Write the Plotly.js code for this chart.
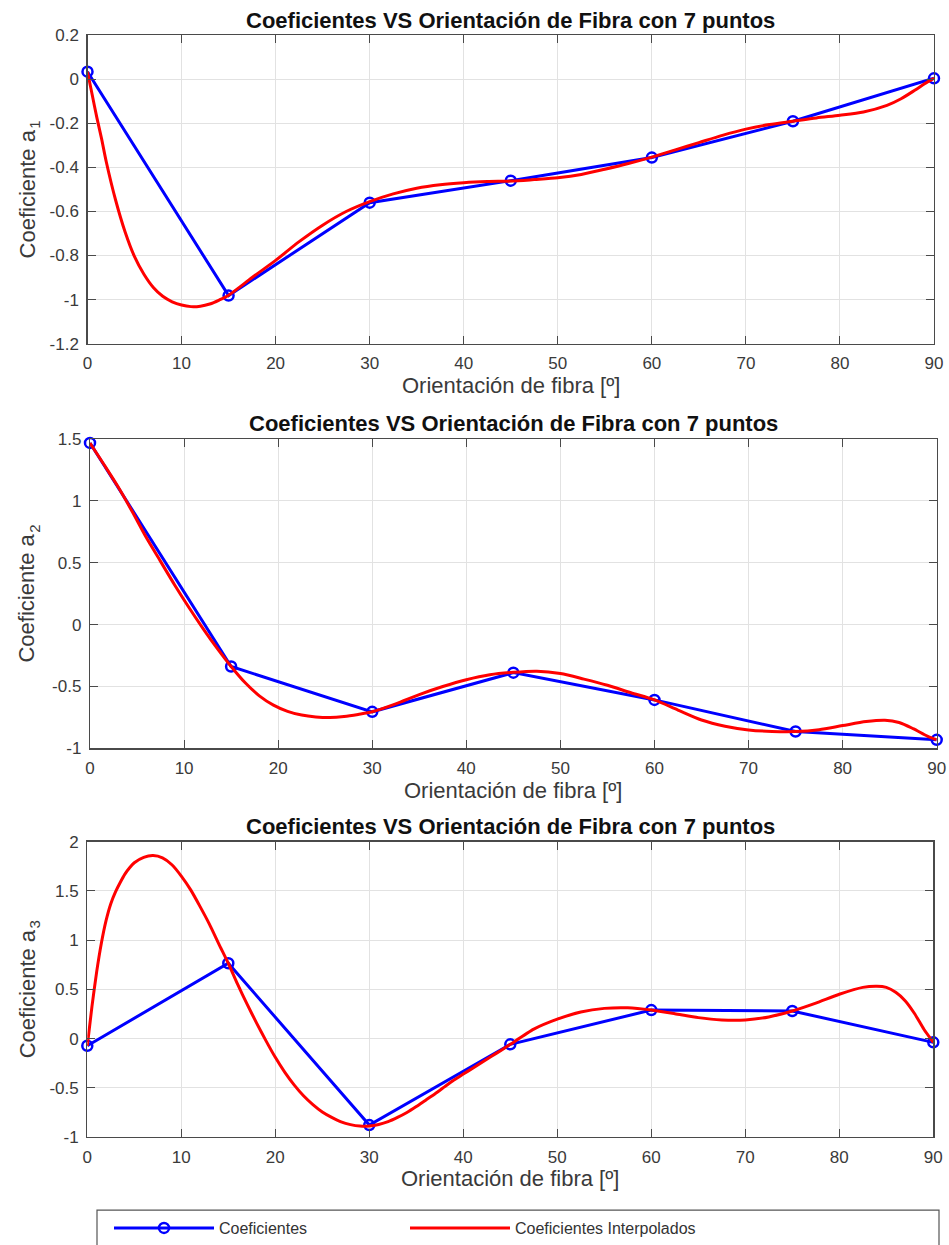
<!DOCTYPE html>
<html><head><meta charset="utf-8">
<script src="https://cdn.plot.ly/plotly-3.0.1.min.js"></script>
<style>body{margin:0;background:#fff}#chart{width:949px;height:1245px}</style>
</head><body><div id="chart"></div>
<script>
// ---- data ----
const angles = [0, 15, 30, 45, 60, 75, 90];
const a1 = [0.035, -0.982, -0.56, -0.46, -0.355, -0.19, 0.005];
const a2 = [1.466, -0.338, -0.704, -0.388, -0.608, -0.863, -0.93];
const a3 = [-0.072, 0.765, -0.878, -0.058, 0.29, 0.28, -0.038];

const interpX1 = [0,0.5,1,1.5,2,3,4,5,6,7,8,9,10,11,12,13,14,15,17.5,20,22.5,25,27.5,30,32.5,35,37.5,40,42.5,45,47.5,50,52.5,55,57.5,60,62.5,65,67.5,70,72.5,75,77.5,80,82.5,85,86.5,88,89,90];
const interpA1 = [0.035,-0.07,-0.175,-0.27,-0.375,-0.55,-0.693,-0.805,-0.885,-0.945,-0.985,-1.01,-1.025,-1.032,-1.03,-1.02,-1.002,-0.98,-0.90,-0.822,-0.737,-0.662,-0.60,-0.555,-0.52,-0.494,-0.478,-0.469,-0.464,-0.462,-0.455,-0.447,-0.432,-0.408,-0.382,-0.353,-0.32,-0.287,-0.254,-0.226,-0.205,-0.19,-0.175,-0.163,-0.148,-0.118,-0.088,-0.048,-0.02,0.005];

const interpX2 = [0,1.5,3,4.5,6,7.5,9,10.5,12,13.5,15,16.5,18,19.5,21,22.5,24,25.5,27,28.5,30,32.5,35,37.5,40,42.5,45,47.5,50,52.5,55,57.5,60,62.5,65,67.5,70,72.5,75,77.5,80,82.5,84.5,86,87.5,89,90];
const interpA2 = [1.466,1.29,1.11,0.91,0.70,0.51,0.32,0.14,-0.03,-0.19,-0.338,-0.47,-0.575,-0.65,-0.70,-0.73,-0.745,-0.75,-0.742,-0.725,-0.704,-0.64,-0.565,-0.50,-0.445,-0.405,-0.385,-0.376,-0.395,-0.44,-0.49,-0.55,-0.608,-0.69,-0.77,-0.82,-0.85,-0.862,-0.863,-0.848,-0.815,-0.783,-0.772,-0.79,-0.84,-0.90,-0.93];

const interpX3 = [0,0.5,1,1.5,2,2.5,3,3.5,4,4.5,5,6,7,8,9,10,11,12,13,14,15,16,17,18,19,20,21,22,23,24,25,26,27,28,29,30,31,32,33,34,35,36,37,38,39,40,41,42,43,44,45,47.5,50,52.5,55,57.5,60,62.5,65,67.5,70,72.5,75,77.5,80,82.5,84,85,86,87,88,89,90];
const interpA3 = [-0.072,0.33,0.68,0.97,1.2,1.37,1.49,1.585,1.67,1.735,1.785,1.84,1.858,1.835,1.765,1.65,1.51,1.34,1.16,0.96,0.765,0.55,0.35,0.16,-0.02,-0.19,-0.34,-0.47,-0.58,-0.67,-0.745,-0.80,-0.845,-0.873,-0.888,-0.888,-0.872,-0.843,-0.80,-0.75,-0.69,-0.625,-0.56,-0.49,-0.42,-0.36,-0.30,-0.24,-0.18,-0.12,-0.058,0.096,0.197,0.27,0.307,0.313,0.29,0.253,0.213,0.19,0.19,0.22,0.28,0.36,0.45,0.52,0.532,0.52,0.47,0.385,0.255,0.095,-0.038];

const xTickVals = [0,10,20,30,40,50,60,70,80,90];
const xTickText = ['0','10','20','30','40','50','60','70','80','90'];
const y1TickVals = [0.2,0,-0.2,-0.4,-0.6,-0.8,-1,-1.2];
const y1TickText = ['0.2','0','-0.2','-0.4','-0.6','-0.8','-1','-1.2'];
const y2TickVals = [1.5,1,0.5,0,-0.5,-1];
const y2TickText = ['1.5','1','0.5','0','-0.5','-1'];
const y3TickVals = [2,1.5,1,0.5,0,-0.5,-1];
const y3TickText = ['2','1.5','1','0.5','0','-0.5','-1'];

const seriesNames = ['Coeficientes', 'Coeficientes Interpolados'];
const plotTitle = 'Coeficientes VS Orientación de Fibra con 7 puntos';
const xLabel = 'Orientación de fibra [º]';
const yLabelMain = 'Coeficiente a';
const yLabelSubs = ['1', '2', '3'];

// ---- styling ----
const W = 949, H = 1245;
const FONT = 'Liberation Sans, Arial, Helvetica, sans-serif';
const AX = '#4a4a4a';
const px = v => v / W;
const py = v => 1 - v / H;

const panels = [
  {x0: 87.5, x1: 934, top: 35.5, bottom: 345, y: a1, ix: interpX1, iy: interpA1, range: [-1.2, 0.2], tv: y1TickVals, tt: y1TickText, sm: 0.8},
  {x0: 90, x1: 936.7, top: 440.5, bottom: 751.5, y: a2, ix: interpX2, iy: interpA2, range: [-1, 1.5], tv: y2TickVals, tt: y2TickText, sm: 0.8},
  {x0: 87.3, x1: 933.3, top: 845, bottom: 1141.7, y: a3, ix: interpX3, iy: interpA3, range: [-1, 2], tv: y3TickVals, tt: y3TickText, sm: 0.6}
];

const traces = [];
const layout = {
  width: W, height: H,
  margin: {l: 0, r: 0, t: 0, b: 0},
  paper_bgcolor: '#ffffff', plot_bgcolor: '#ffffff',
  font: {family: FONT, color: '#333333'},
  showlegend: true,
  legend: {
    orientation: 'h', x: px(109), xanchor: 'left', y: py(1233), yanchor: 'middle',
    bgcolor: 'rgba(0,0,0,0)', borderwidth: 0,
    font: {family: FONT, size: 16, color: '#333333'},
    entrywidth: 181, entrywidthmode: 'pixels', itemwidth: 100, tracegroupgap: 0
  },
  annotations: [],
  shapes: [{type: 'rect', xref: 'paper', yref: 'paper', x0: px(97), x1: px(939), y0: py(1270), y1: py(1215),
            line: {color: '#555555', width: 1.2}, fillcolor: 'rgba(0,0,0,0)', layer: 'below'}]
};

const axisCommon = {
  showgrid: true, gridcolor: '#e2e2e2', gridwidth: 1, zeroline: false,
  showline: true, linecolor: AX, linewidth: 1.2, mirror: 'ticks',
  ticks: 'inside', ticklen: 8, tickwidth: 1, tickcolor: AX,
  tickfont: {family: FONT, size: 17, color: '#3a3a3a'}, fixedrange: true
};

panels.forEach((p, i) => {
  const n = i + 1;
  const xa = 'xaxis' + (n === 1 ? '' : n), ya = 'yaxis' + (n === 1 ? '' : n);
  const xr = 'x' + (n === 1 ? '' : n), yr = 'y' + (n === 1 ? '' : n);
  layout[xa] = Object.assign({}, axisCommon, {domain: [px(p.x0), px(p.x1)], anchor: yr, range: [0, 90],
    tickmode: 'array', tickvals: xTickVals, ticktext: xTickText, ticklabelstandoff: 4});
  layout[ya] = Object.assign({}, axisCommon, {domain: [py(p.bottom), py(p.top)], anchor: xr, range: p.range,
    tickmode: 'array', tickvals: p.tv, ticktext: p.tt, ticklabelstandoff: 4});
  traces.push({
    x: angles, y: p.y, xaxis: xr, yaxis: yr, type: 'scatter', mode: 'lines+markers',
    name: seriesNames[0], legendgroup: 'c', showlegend: n === 1, cliponaxis: false,
    line: {color: '#0000ff', width: 3},
    marker: {symbol: 'circle-open', size: 10, color: '#0000ff', line: {color: '#0000ff', width: 2.5}}
  });
  traces.push({
    x: p.ix, y: p.iy, xaxis: xr, yaxis: yr, type: 'scatter', mode: 'lines',
    name: seriesNames[1], legendgroup: 'i', showlegend: n === 1, cliponaxis: false,
    line: {color: '#ff0000', width: 3, shape: 'spline', smoothing: p.sm}
  });
  const cx = (p.x0 + p.x1) / 2;
  const cy = (p.top + p.bottom) / 2;
  layout.annotations.push({xref: 'paper', yref: 'paper', x: px(cx), y: py(p.top - 15), xanchor: 'center', yanchor: 'middle',
    text: plotTitle, showarrow: false, font: {family: FONT, size: 22, weight: 'bold', color: '#111111'}});
  layout.annotations.push({xref: 'paper', yref: 'paper', x: px(cx), y: py(p.bottom + 42), xanchor: 'center', yanchor: 'middle',
    text: xLabel, showarrow: false, font: {family: FONT, size: 22, color: '#3a3a3a'}});
  layout.annotations.push({xref: 'paper', yref: 'paper', x: px(27), y: py(cy + 5), xanchor: 'center', yanchor: 'middle',
    text: yLabelMain, textangle: -90, showarrow: false, font: {family: FONT, size: 22, color: '#3a3a3a'}});
  layout.annotations.push({xref: 'paper', yref: 'paper', x: px(35), y: py(cy - 65), xanchor: 'center', yanchor: 'middle',
    text: yLabelSubs[i], textangle: -90, showarrow: false, font: {family: FONT, size: 15, color: '#3a3a3a'}});
});

Plotly.newPlot('chart', traces, layout, {staticPlot: true, displayModeBar: false});
</script></body></html>
